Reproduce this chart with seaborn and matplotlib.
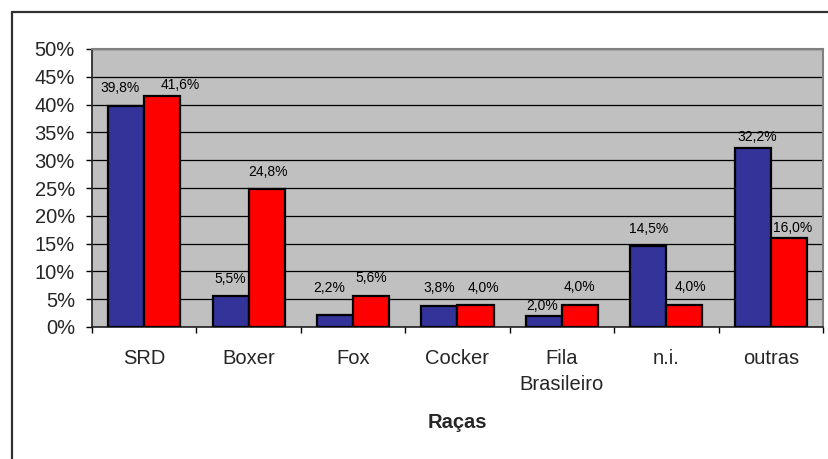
import matplotlib
matplotlib.use("Agg")
import matplotlib.pyplot as plt
import seaborn as sns
import pandas as pd
import numpy as np
from matplotlib.ticker import FixedLocator, NullFormatter
from matplotlib.lines import Line2D

categories = ["SRD", "Boxer", "Fox", "Cocker", "Fila\nBrasileiro", "n.i.", "outras"]
series_names = ["Série 1", "Série 2"]
serie1 = [39.8, 5.5, 2.2, 3.8, 2.0, 14.5, 32.2]
serie2 = [41.6, 24.8, 5.6, 4.0, 4.0, 4.0, 16.0]
y_ticks = [0, 5, 10, 15, 20, 25, 30, 35, 40, 45, 50]
x_title = "Raças"

# label offsets (pixels) relative to the top centre of each bar: (dx, dy)
offsets1 = [(-6, 18), (0, 17), (-6, 27), (0, 18), (-2, 10), (0, 17), (4, 11)]
offsets2 = [(18, 11), (1, 17), (0, 18), (8, 17), (-1, 18), (6, 18), (4, 10)]

df = pd.DataFrame({
    "cat": categories * 2,
    "serie": [series_names[0]] * len(categories) + [series_names[1]] * len(categories),
    "val": serie1 + serie2,
})

sns.set_theme(style="white")
plt.rcParams["font.family"] = ["Liberation Sans", "DejaVu Sans"]

fig = plt.figure(figsize=(8.29, 4.59), dpi=100)
ax = fig.add_axes([92 / 829, 1 - 327 / 459, (823 - 92) / 829, (327 - 49) / 459])

sns.barplot(data=df, x="cat", y="val", hue="serie", order=categories,
            hue_order=series_names, palette=["#333399", "#FF0000"],
            width=0.69, gap=0, edgecolor="black", linewidth=1.6,
            saturation=1, legend=False, ax=ax, zorder=3)

ax.set_facecolor("#C0C0C0")
ax.set_ylim(0, 50)
ax.set_xlim(-0.5, len(categories) - 0.5)
ax.set_yticks(y_ticks)
ax.set_yticklabels([f"{t}%" for t in y_ticks], fontsize=14.5)
ax.yaxis.grid(True, color="black", linewidth=0.9, zorder=0)
ax.set_axisbelow(True)

ax.set_xticks(range(len(categories)))
ax.set_xticklabels(categories, fontsize=14.5, linespacing=1.45, va="top")
ax.tick_params(axis="x", which="major", length=0, pad=16)
ax.xaxis.set_minor_locator(FixedLocator(np.arange(-0.5, len(categories), 1.0)))
ax.xaxis.set_minor_formatter(NullFormatter())
ax.tick_params(axis="x", which="minor", length=4.3, width=1, color="black", direction="out", bottom=True)
ax.tick_params(axis="y", length=4.3, width=1, color="black", direction="out", left=True, pad=8)

ax.set_xlabel(x_title, fontsize=14.5, fontweight="bold", labelpad=14)
ax.set_ylabel("")

for s in ["top", "right"]:
    ax.spines[s].set_color("#808080")
    ax.spines[s].set_linewidth(1.5)
for s in ["left", "bottom"]:
    ax.spines[s].set_color("#202020")
    ax.spines[s].set_linewidth(1.2)

containers = ax.containers
for cont, vals, offs in zip(containers, [serie1, serie2], [offsets1, offsets2]):
    for bar, v, (dx, dy) in zip(cont, vals, offs):
        xc = bar.get_x() + bar.get_width() / 2
        ax.annotate(f"{v:.1f}%".replace(".", ","), (xc, bar.get_height()),
                    xytext=(dx, dy), textcoords="offset pixels",
                    ha="center", va="center", fontsize=10, color="black", zorder=5)

# outer chart border (left and top visible)
fig.add_artist(Line2D([12 / 829, 12 / 829], [0, 1 - 12 / 459], color="#303030", lw=1.6, transform=fig.transFigure))
fig.add_artist(Line2D([12 / 829, 1], [1 - 12 / 459, 1 - 12 / 459], color="#303030", lw=1.6, transform=fig.transFigure))

fig.savefig("out.png", dpi=100)
